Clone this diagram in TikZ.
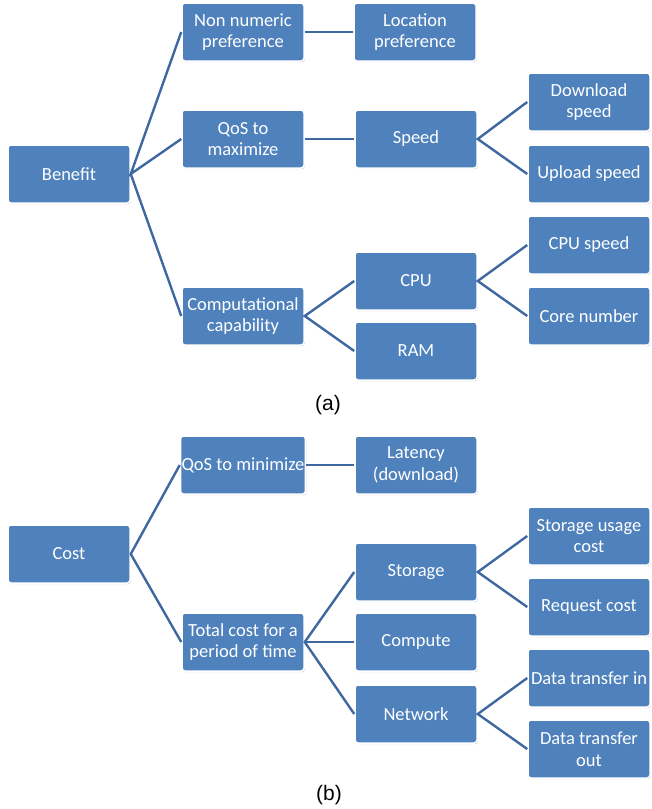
\documentclass[tikz,border=0pt]{standalone}
\usepackage{fontspec}
\setmainfont{Carlito}
\newfontfamily\capfont{Liberation Sans}
\usetikzlibrary{shadows}
\definecolor{boxblue}{HTML}{4F81BD}
\definecolor{linkblue}{HTML}{3F67A0}

\begin{document}
\begin{tikzpicture}[
  x=1pt, y=-1pt,
  box/.style={draw=white, line width=1.5pt, fill=boxblue, rounded corners=3pt,
    minimum width=122pt, minimum height=58pt, inner sep=1pt, align=center,
    text=white, font=\fontsize{18.5}{21.5}\selectfont,
    drop shadow={shadow xshift=0.8pt, shadow yshift=-1.2pt, opacity=0.3, fill=black!60}},
  link/.style={draw=linkblue, line width=2.4pt},
  caption/.style={font=\capfont\fontsize{21}{24}\selectfont}
]
  \useasboundingbox (0,0) rectangle (652,809);

  % (a) benefit tree
  \node[box] (benefit) at (69,174) {Benefit};
  \node[box] (nonnum) at (243,32) {Non numeric\\preference};
  \node[box] (qosmax) at (243,139) {QoS to\\maximize};
  \node[box] (comp) at (243,316) {Computational\\capability};
  \node[box] (location) at (415,32) {Location\\preference};
  \node[box] (speed) at (416,139) {Speed};
  \node[box] (cpu) at (416,281) {CPU};
  \node[box] (ram) at (416,351) {RAM};
  \node[box] (download) at (589,102) {Download\\speed};
  \node[box] (upload) at (589,174) {Upload speed};
  \node[box] (cpuspeed) at (589,245) {CPU speed};
  \node[box] (corenum) at (589,316) {Core number};
  \node[caption] (capa) at (328,405) {(a)};

  \draw[link] (nonnum.west) -- (benefit.east) -- (qosmax.west);
  \draw[link] (benefit.east) -- (comp.west);
  \draw[link] (nonnum) -- (location);
  \draw[link] (qosmax) -- (speed);
  \draw[link] (download.west) -- (speed.east) -- (upload.west);
  \draw[link] (cpu.west) -- (comp.east) -- (ram.west);
  \draw[link] (cpuspeed.west) -- (cpu.east) -- (corenum.west);

  % (b) cost tree
  \node[box] (cost) at (69,554) {Cost};
  \node[box] (qosmin) at (243,465) {QoS to minimize};
  \node[box] (total) at (243,642) {Total cost for a\\period of time};
  \node[box] (latency) at (416,465) {Latency\\(download)};
  \node[box] (storage) at (416,572) {Storage};
  \node[box] (compute) at (416,642) {Compute};
  \node[box] (network) at (416,714) {Network};
  \node[box] (storusage) at (589,536) {Storage usage\\cost};
  \node[box] (request) at (589,607) {Request cost};
  \node[box] (datain) at (589,678) {Data transfer in};
  \node[box] (dataout) at (589,749) {Data transfer\\out};
  \node[caption] (capb) at (329,795) {(b)};

  \draw[link] (qosmin.west) -- (cost.east) -- (total.west);
  \draw[link] (qosmin) -- (latency);
  \draw[link] (storage.west) -- (total.east) -- (network.west);
  \draw[link] (total) -- (compute);
  \draw[link] (storusage.west) -- (storage.east) -- (request.west);
  \draw[link] (datain.west) -- (network.east) -- (dataout.west);
\end{tikzpicture}
\end{document}
